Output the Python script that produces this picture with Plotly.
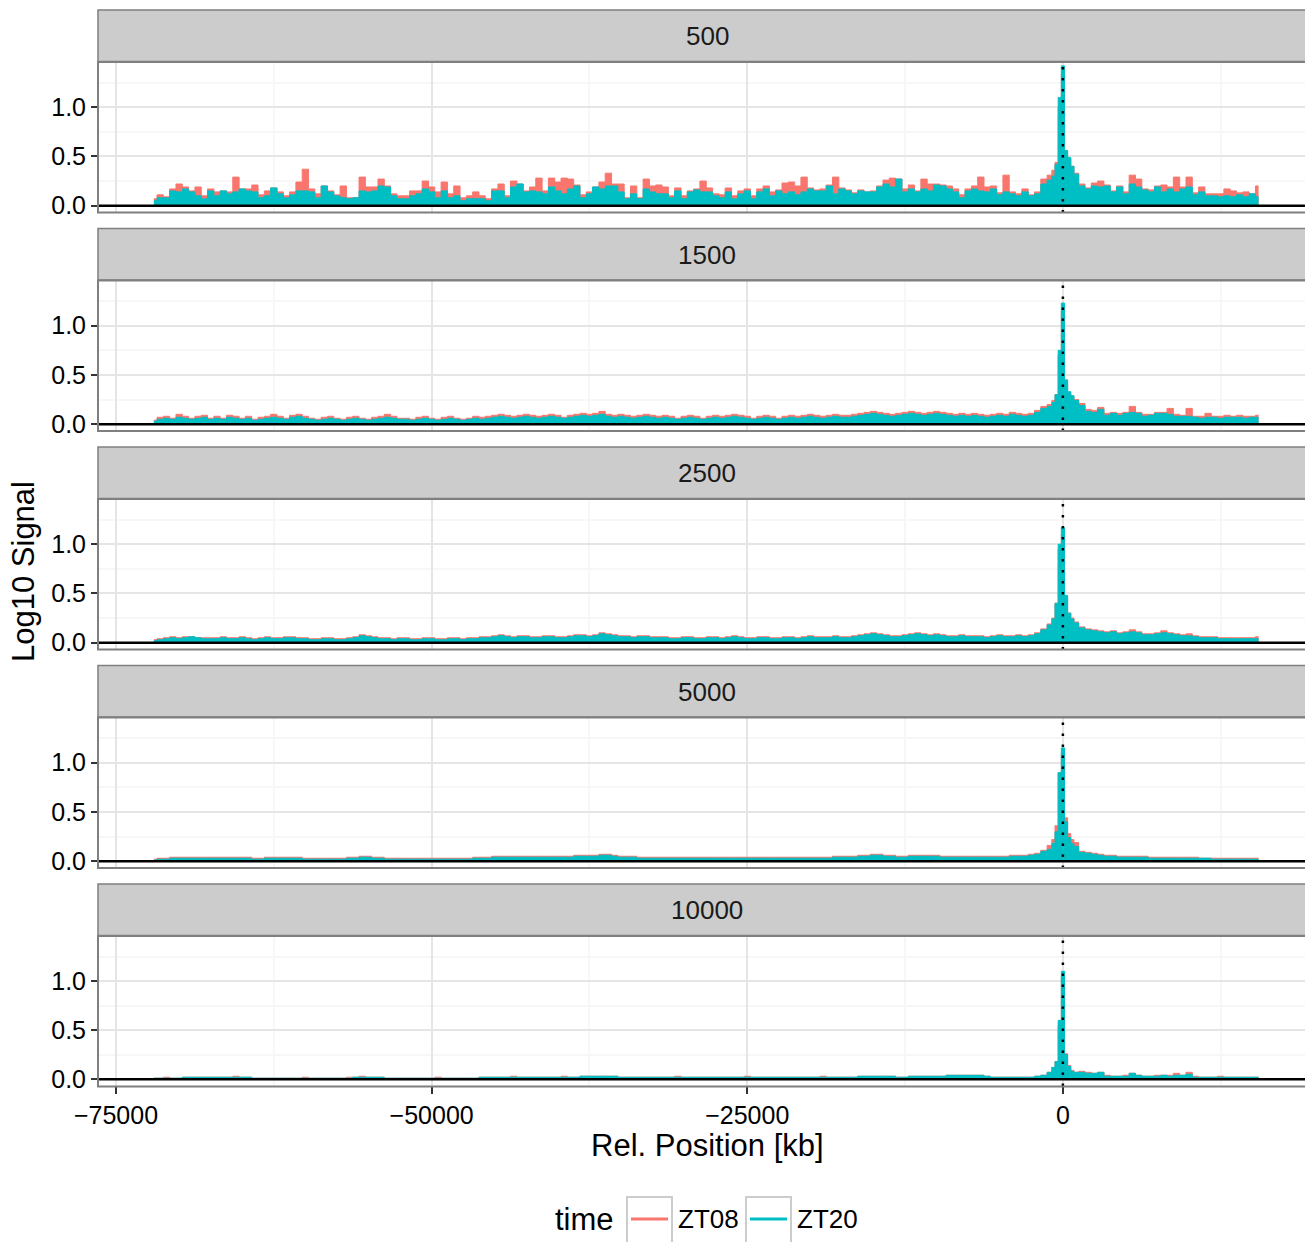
import plotly.graph_objects as go

# the page puts the figure 8 px in from the top-left corner
PAGE_OFFSET = 8
W, H = 1313 - PAGE_OFFSET, 1242 - PAGE_OFFSET
FONT = "Liberation Sans, Arial, sans-serif"
RED = "#F8766D"
CYAN = "#00BFC4"

# bin positions in kb (finer bins around the peak at 0)
POS = list(range(-72000, -1000, 500)) + list(range(-1000, 1001, 250)) + list(range(1500, 15501, 500))

WINDOWS = ["500", "1500", "2500", "5000", "10000"]

# signal values, in hundredths of log10 units, one per bin in POS
ZT08_500 = [
    7, 11, 9, 17, 22, 19, 15, 19, 10, 17, 14, 15, 14, 29, 17, 17, 21, 11, 15, 18, 14, 10, 14, 24, 37, 17, 12, 20, 15, 11, 20, 8, 8, 29, 19,
    19, 27, 20, 12, 10, 10, 15, 15, 25, 19, 14, 24, 12, 20, 8, 10, 14, 10, 7, 17, 22, 10, 25, 22, 15, 19, 28, 15, 28, 24, 28, 27, 21, 11, 14, 19,
    24, 33, 22, 22, 8, 20, 8, 27, 20, 21, 19, 10, 18, 10, 15, 17, 25, 18, 12, 11, 18, 10, 15, 17, 10, 17, 20, 14, 16, 23, 24, 20, 29, 18, 16, 17,
    21, 29, 18, 16, 13, 16, 14, 15, 20, 26, 28, 27, 17, 21, 15, 27, 22, 22, 21, 20, 17, 11, 17, 20, 29, 19, 20, 13, 31, 14, 12, 17, 11, 14, 27,
    31, 36, 44, 100, 133, 54, 48, 40, 33,
    22, 18, 23, 25, 21, 15, 20, 14, 31, 27, 17, 16, 20, 21, 19, 29, 19, 29, 13, 19, 12, 12, 12, 17, 15, 13, 14, 12, 20,
]
ZT20_500 = [
    5, 8, 8, 15, 14, 17, 14, 10, 7, 15, 10, 15, 12, 14, 17, 15, 14, 8, 10, 18, 12, 8, 11, 15, 15, 14, 8, 20, 14, 10, 8, 7, 8, 15, 14,
    15, 20, 19, 10, 7, 7, 10, 12, 17, 14, 8, 15, 8, 10, 5, 7, 7, 7, 5, 15, 15, 8, 19, 22, 14, 15, 14, 12, 19, 15, 12, 17, 20, 8, 12, 19,
    17, 20, 20, 14, 7, 12, 7, 17, 14, 12, 12, 8, 15, 7, 14, 16, 14, 14, 10, 8, 14, 7, 12, 15, 7, 14, 17, 10, 15, 12, 14, 11, 14, 17, 15, 15,
    20, 12, 17, 15, 12, 15, 14, 14, 19, 22, 19, 27, 14, 17, 14, 17, 15, 21, 20, 17, 14, 8, 15, 17, 15, 14, 17, 11, 14, 12, 10, 14, 10, 12, 22,
    26, 30, 42, 110, 142, 56, 49, 40, 32,
    20, 17, 20, 19, 20, 14, 19, 12, 22, 19, 16, 14, 19, 14, 17, 14, 17, 19, 11, 14, 10, 10, 9, 10, 9, 11, 9, 12, 9,
]

ZT08_1500 = [
    4, 7, 8, 6, 10, 8, 6, 8, 9, 6, 8, 6, 9, 8, 6, 8, 5, 7, 8, 10,
    8, 6, 9, 10, 8, 6, 5, 7, 8, 6, 5, 7, 8, 6, 5, 7, 8, 10, 8, 6,
    6, 5, 7, 8, 6, 5, 7, 8, 6, 5, 6, 8, 7, 8, 9, 10, 9, 8, 9, 10,
    9, 8, 9, 10, 9, 7, 9, 10, 11, 10, 11, 13, 10, 9, 10, 9, 8, 9, 10, 9,
    8, 9, 8, 6, 8, 9, 8, 6, 8, 9, 8, 9, 10, 9, 8, 6, 8, 9, 8, 6,
    8, 9, 8, 9, 10, 9, 8, 9, 10, 9, 9, 10, 11, 12, 13, 12, 11, 10, 11, 12,
    13, 12, 11, 12, 13, 12, 11, 10, 11, 10, 11, 10, 9, 10, 11, 10, 12, 11, 10, 11,
    14, 18,
    20, 24, 30, 70, 115, 42, 32, 28, 25,
    21, 15, 14, 17, 11, 12, 11, 12, 18, 12, 10, 10, 12, 12, 16, 10, 9, 16, 8, 8, 11, 8, 8, 9, 8, 9, 8, 8, 9,
]
ZT20_1500 = [
    3, 5, 6, 5, 7, 6, 5, 6, 7, 5, 6, 5, 7, 6, 5, 6, 4, 5, 6, 7,
    6, 5, 7, 8, 6, 5, 4, 5, 6, 5, 4, 5, 6, 5, 4, 5, 6, 7, 6, 5,
    5, 4, 5, 6, 5, 4, 5, 6, 5, 4, 5, 6, 5, 6, 7, 8, 7, 6, 7, 8,
    7, 6, 7, 8, 7, 6, 7, 8, 9, 8, 9, 10, 8, 7, 8, 7, 6, 7, 8, 7,
    6, 7, 6, 5, 6, 7, 6, 5, 6, 7, 6, 7, 8, 7, 6, 5, 6, 7, 6, 5,
    6, 7, 6, 7, 8, 7, 6, 7, 8, 7, 7, 8, 9, 10, 11, 10, 9, 8, 9, 10,
    11, 10, 9, 10, 11, 10, 9, 8, 9, 8, 9, 8, 7, 8, 9, 8, 10, 9, 8, 9,
    12, 16,
    18, 22, 30, 75, 123, 45, 33, 29, 24,
    19, 13, 12, 15, 9, 11, 9, 11, 12, 11, 8, 9, 11, 11, 10, 8, 8, 8, 7, 6, 7, 7, 6, 7, 7, 7, 6, 7, 7,
]

ZT08_2500 = [
    3, 4, 5, 6, 5, 6, 6, 5, 5, 5, 5, 6, 5, 5, 6, 5, 4, 5, 6, 5,
    5, 6, 6, 5, 5, 4, 4, 5, 5, 4, 4, 5, 6, 8, 7, 6, 5, 5, 4, 5,
    5, 4, 4, 5, 5, 4, 4, 5, 5, 4, 5, 5, 6, 6, 7, 8, 7, 6, 7, 7,
    6, 6, 7, 7, 6, 6, 7, 8, 8, 7, 8, 10, 9, 8, 7, 7, 6, 7, 7, 6,
    6, 6, 5, 5, 6, 6, 5, 5, 6, 6, 5, 6, 7, 6, 5, 5, 6, 6, 5, 5,
    6, 6, 5, 6, 7, 6, 6, 6, 7, 6, 6, 7, 8, 9, 10, 9, 8, 7, 7, 8,
    9, 10, 9, 8, 9, 8, 7, 7, 8, 7, 7, 7, 6, 7, 8, 7, 7, 8, 7, 8,
    10, 14,
    19, 25, 40, 95, 110, 46, 30, 25, 21,
    16, 14, 13, 12, 11, 12, 10, 11, 13, 11, 9, 9, 10, 12, 10, 9, 8, 9, 7, 6, 6, 6, 5, 5, 5, 5, 5, 5, 6,
]
ZT20_2500 = [
    2, 3, 4, 5, 4, 5, 6, 5, 4, 4, 4, 5, 4, 4, 5, 4, 3, 4, 5, 4,
    4, 5, 5, 4, 4, 3, 3, 4, 4, 3, 3, 4, 5, 7, 6, 5, 4, 4, 3, 4,
    4, 3, 3, 4, 4, 3, 3, 4, 4, 3, 4, 4, 5, 5, 6, 7, 6, 5, 6, 6,
    5, 5, 6, 6, 5, 5, 6, 7, 7, 6, 7, 9, 8, 7, 6, 6, 5, 6, 6, 5,
    5, 5, 4, 4, 5, 5, 4, 4, 5, 5, 4, 5, 6, 5, 4, 4, 5, 5, 4, 4,
    5, 5, 4, 5, 6, 5, 5, 5, 6, 5, 5, 6, 7, 8, 9, 8, 7, 6, 6, 7,
    8, 9, 8, 7, 8, 7, 6, 6, 7, 6, 6, 6, 5, 6, 7, 6, 6, 7, 6, 7,
    9, 13,
    18, 24, 40, 100, 117, 48, 30, 24, 20,
    15, 13, 12, 11, 10, 11, 9, 10, 11, 10, 8, 8, 9, 10, 9, 8, 7, 7, 6, 5, 5, 5, 4, 4, 4, 4, 4, 4, 4,
]

ZT08_5000 = [
    2, 3, 3, 4, 4, 4, 4, 4, 4, 4, 4, 4, 4, 4, 4, 4, 3, 3, 4, 4,
    4, 4, 4, 4, 3, 3, 3, 3, 3, 3, 3, 4, 4, 5, 5, 4, 4, 3, 3, 3,
    3, 3, 3, 3, 3, 3, 3, 3, 3, 3, 3, 4, 4, 4, 5, 5, 5, 5, 5, 5,
    5, 5, 5, 5, 5, 5, 5, 6, 6, 6, 6, 7, 7, 6, 5, 5, 5, 4, 4, 4,
    4, 4, 4, 4, 4, 4, 4, 4, 4, 4, 4, 4, 4, 4, 4, 4, 4, 4, 4, 4,
    4, 4, 4, 4, 4, 4, 4, 4, 5, 5, 5, 5, 6, 6, 7, 7, 6, 6, 5, 5,
    6, 6, 6, 6, 6, 5, 5, 5, 5, 5, 5, 5, 5, 5, 5, 5, 6, 6, 6, 7,
    8, 11,
    16, 22, 36, 90, 110, 44, 28, 22, 19,
    10, 9, 8, 7, 6, 6, 5, 5, 5, 5, 5, 4, 4, 4, 4, 4, 4, 4, 4, 3, 3, 3, 3, 3, 3, 3, 3, 3, 3,
]
ZT20_5000 = [
    1, 2, 2, 3, 3, 3, 3, 3, 3, 3, 3, 3, 3, 3, 3, 3, 2, 2, 3, 3,
    3, 3, 3, 3, 2, 2, 2, 2, 2, 2, 2, 3, 3, 4, 4, 3, 3, 2, 2, 2,
    2, 2, 2, 2, 2, 2, 2, 2, 2, 2, 2, 3, 3, 3, 4, 4, 4, 4, 4, 4,
    4, 4, 4, 4, 4, 4, 4, 5, 5, 5, 5, 6, 6, 5, 4, 4, 4, 3, 3, 3,
    3, 3, 3, 3, 3, 3, 3, 3, 3, 3, 3, 3, 3, 3, 3, 3, 3, 3, 3, 3,
    3, 3, 3, 3, 3, 3, 3, 3, 4, 4, 4, 4, 5, 5, 6, 6, 5, 5, 4, 4,
    5, 5, 5, 5, 5, 4, 4, 4, 4, 4, 4, 4, 4, 4, 4, 4, 5, 5, 5, 6,
    7, 10,
    12, 18, 30, 90, 115, 40, 24, 18, 15,
    9, 8, 7, 6, 5, 5, 4, 4, 4, 4, 4, 3, 3, 3, 3, 3, 3, 3, 3, 3, 3, 2, 2, 2, 2, 2, 2, 2, 2,
]

ZT08_10000 = [
    1, 1, 2, 1, 1, 2, 2, 2, 2, 2, 2, 2, 2, 3, 2, 2, 1, 1, 1, 1,
    1, 1, 1, 1, 2, 1, 1, 1, 1, 1, 1, 2, 2, 3, 2, 2, 2, 1, 1, 1,
    1, 1, 1, 1, 1, 2, 1, 1, 1, 1, 1, 1, 2, 2, 2, 2, 2, 3, 2, 2,
    2, 2, 2, 2, 2, 3, 2, 2, 3, 3, 3, 3, 3, 3, 2, 2, 2, 2, 2, 2,
    2, 2, 2, 3, 2, 2, 2, 2, 2, 2, 2, 2, 2, 2, 3, 2, 2, 2, 2, 2,
    2, 2, 2, 2, 2, 2, 3, 2, 2, 2, 2, 2, 3, 3, 3, 3, 3, 3, 2, 2,
    3, 3, 3, 3, 3, 3, 4, 4, 4, 4, 4, 4, 3, 2, 2, 2, 2, 2, 2, 2,
    3, 4,
    7, 12, 18, 55, 105, 26, 14, 9, 7,
    8, 7, 6, 7, 4, 3, 3, 4, 6, 4, 3, 3, 4, 4, 4, 6, 4, 7, 3, 2, 2, 2, 3, 2, 2, 2, 2, 2, 2,
]
ZT20_10000 = [
    1, 1, 1, 1, 1, 2, 2, 2, 2, 2, 2, 2, 2, 2, 2, 2, 1, 1, 1, 1,
    1, 1, 1, 1, 1, 1, 1, 1, 1, 1, 1, 1, 2, 2, 2, 2, 2, 1, 1, 1,
    1, 1, 1, 1, 1, 1, 1, 1, 1, 1, 1, 1, 2, 2, 2, 2, 2, 2, 2, 2,
    2, 2, 2, 2, 2, 2, 2, 2, 3, 3, 3, 3, 3, 3, 2, 2, 2, 2, 2, 2,
    2, 2, 2, 2, 2, 2, 2, 2, 2, 2, 2, 2, 2, 2, 2, 2, 2, 2, 2, 2,
    2, 2, 2, 2, 2, 2, 2, 2, 2, 2, 2, 2, 3, 3, 3, 3, 3, 3, 2, 2,
    3, 3, 3, 3, 3, 3, 4, 4, 4, 4, 4, 4, 3, 2, 2, 2, 2, 2, 2, 2,
    3, 4,
    7, 12, 18, 60, 110, 25, 13, 8, 7,
    7, 6, 6, 7, 3, 3, 3, 3, 6, 4, 3, 3, 3, 4, 3, 4, 4, 5, 2, 2, 2, 2, 2, 2, 2, 2, 2, 2, 2,
]

ZT08 = dict(zip(WINDOWS, [ZT08_500, ZT08_1500, ZT08_2500, ZT08_5000, ZT08_10000]))
ZT20 = dict(zip(WINDOWS, [ZT20_500, ZT20_1500, ZT20_2500, ZT20_5000, ZT20_10000]))

for w in WINDOWS:
    assert len(ZT08[w]) == len(POS), (w, "ZT08", len(ZT08[w]))
    assert len(ZT20[w]) == len(POS), (w, "ZT20", len(ZT20[w]))

X_TICKS = [-75000, -50000, -25000, 0]
X_TICKTEXT = ["\u221275000", "\u221250000", "\u221225000", "0"]
X_MINOR = [-62500, -37500, -12500, 12500]
Y_TICKS = [0, 0.5, 1.0]
Y_TICKTEXT = ["0.0", "0.5", "1.0"]
Y_MINOR = [0.25, 0.75, 1.25]

# pixel layout (page pixels of the target picture)
PANEL_LEFT, PLOT_TOP, PLOT_BOTTOM = 98, 10, 1086
LEFT = PANEL_LEFT - PAGE_OFFSET
TOP = PLOT_TOP - PAGE_OFFSET
BOTTOM = H - (PLOT_BOTTOM - PAGE_OFFSET)
RIGHT = 0
PLOT_W = W - LEFT - RIGHT
PLOT_H = H - TOP - BOTTOM
PERIOD = 218.5
STRIP_H = 51.5


def xp(px):
    return (px - PAGE_OFFSET - LEFT) / PLOT_W


def yp(px):
    return (H - BOTTOM - (px - PAGE_OFFSET)) / PLOT_H


fig = go.Figure()
layout = {}
shapes = []
annotations = []

for i, w in enumerate(WINDOWS):
    n = i + 1
    xa = "x" if n == 1 else f"x{n}"
    ya = "y" if n == 1 else f"y{n}"
    s = PLOT_TOP + PERIOD * i
    top, bot = s + 52, s + 202.5

    for name, vals, col in [("ZT08", ZT08[w], RED), ("ZT20", ZT20[w], CYAN)]:
        fig.add_trace(go.Scatter(
            x=POS, y=[v / 100 for v in vals], mode="lines", name=name,
            line=dict(color=col, width=1, shape="hvh"),
            fill="tozeroy", fillcolor=col,
            xaxis=xa, yaxis=ya, showlegend=False, hoverinfo="skip"
        ))

    last = n == len(WINDOWS)
    layout["xaxis" if n == 1 else f"xaxis{n}"] = dict(
        domain=[0, 1], anchor=ya, range=[-76426, 19810],
        matches=None if n == 1 else "x",
        tickvals=X_TICKS, ticktext=X_TICKTEXT, showticklabels=last,
        ticks="outside" if last else "", ticklen=7, tickwidth=2, tickcolor="#333333",
        tickfont=dict(size=25, color="black", family=FONT),
        showgrid=True, gridcolor="#E5E5E5", gridwidth=1.5,
        minor=dict(tickvals=X_MINOR, showgrid=True, gridcolor="#F7F7F7", gridwidth=1.5),
        zeroline=False, showline=False,
    )
    layout["yaxis" if n == 1 else f"yaxis{n}"] = dict(
        domain=[max(0, yp(bot)), min(1, yp(top))], anchor=xa,
        range=[-0.0695, 1.4595],
        tickvals=Y_TICKS, ticktext=Y_TICKTEXT,
        ticks="outside", ticklen=6, tickwidth=2, tickcolor="#333333",
        tickfont=dict(size=25, color="black", family=FONT),
        showgrid=True, gridcolor="#E5E5E5", gridwidth=1.5,
        minor=dict(tickvals=Y_MINOR, showgrid=True, gridcolor="#F7F7F7", gridwidth=1.5),
        zeroline=False, showline=False,
    )

    # strip
    shapes.append(dict(type="rect", xref="paper", yref="paper",
                       x0=0, x1=1.02, y0=yp(s + STRIP_H), y1=yp(s),
                       fillcolor="#CCCCCC", line=dict(color="#7F7F7F", width=1.5), layer="above"))
    annotations.append(dict(xref="paper", yref="paper", x=xp(707), y=yp(s + 26),
                            text=w, showarrow=False, xanchor="center", yanchor="middle",
                            font=dict(size=26, color="#1A1A1A", family=FONT)))
    # baseline and centre line
    shapes.append(dict(type="line", xref=f"{xa} domain", yref=ya, x0=0, x1=1, y0=0, y1=0,
                       line=dict(color="black", width=2.5), layer="above"))
    shapes.append(dict(type="line", xref=xa, yref=f"{ya} domain", x0=0, x1=0, y0=0, y1=1,
                       line=dict(color="black", width=2.5, dash="2.5px,8.5px"), layer="above"))
    # panel border
    shapes.append(dict(type="rect", xref="paper", yref="paper",
                       x0=0, x1=1.02, y0=yp(bot), y1=yp(top),
                       fillcolor="rgba(0,0,0,0)", line=dict(color="#7F7F7F", width=2), layer="above"))

# axis titles
annotations.append(dict(xref="paper", yref="paper", x=xp(707), y=yp(1145),
                        text="Rel. Position [kb]", showarrow=False,
                        xanchor="center", yanchor="middle",
                        font=dict(size=31, color="black", family=FONT)))
annotations.append(dict(xref="paper", yref="paper", x=xp(23), y=yp(572),
                        text="Log10 Signal", showarrow=False, textangle=-90,
                        xanchor="center", yanchor="middle",
                        font=dict(size=31, color="black", family=FONT)))

# legend drawn by hand (ggplot style keys)
annotations.append(dict(xref="paper", yref="paper", x=xp(553), y=yp(1219),
                        text="time", showarrow=False, xanchor="left", yanchor="middle",
                        font=dict(size=31, color="black", family=FONT)))
for key_x, label, col in [(627, "ZT08", RED), (746, "ZT20", CYAN)]:
    shapes.append(dict(type="rect", xref="paper", yref="paper",
                       x0=xp(key_x), x1=xp(key_x + 45), y0=yp(1245), y1=yp(1197),
                       fillcolor="white", line=dict(color="#CCCCCC", width=2), layer="above"))
    shapes.append(dict(type="line", xref="paper", yref="paper",
                       x0=xp(key_x + 4), x1=xp(key_x + 41), y0=yp(1219), y1=yp(1219),
                       line=dict(color=col, width=3), layer="above"))
    annotations.append(dict(xref="paper", yref="paper", x=xp(key_x + 49), y=yp(1219),
                            text=label, showarrow=False, xanchor="left", yanchor="middle",
                            font=dict(size=26, color="black", family=FONT)))

fig.update_layout(
    width=W, height=H,
    margin=dict(l=LEFT, r=RIGHT, t=TOP, b=BOTTOM),
    paper_bgcolor="white", plot_bgcolor="white",
    font=dict(family=FONT, color="black"),
    showlegend=False,
    shapes=shapes, annotations=annotations,
    **layout
)

fig.write_html("out.html")
